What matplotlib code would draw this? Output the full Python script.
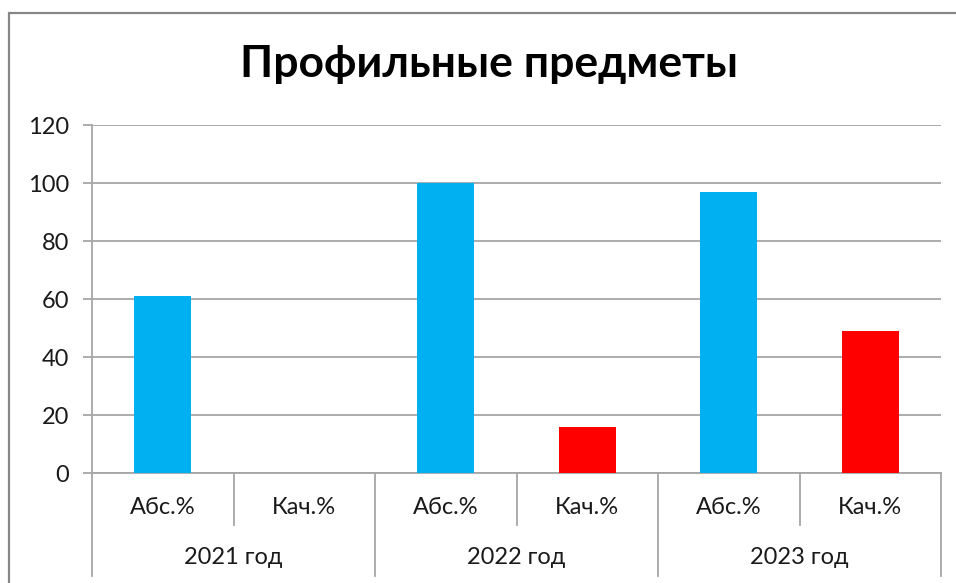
import matplotlib.pyplot as plt
from matplotlib import transforms
from matplotlib.patches import Rectangle

years = ['2021 год', '2022 год', '2023 год']
metrics = ['Абс.%', 'Кач.%']
abs_vals = [61, 100, 97]
kach_vals = [0, 16, 49]
title = 'Профильные предметы'

plt.rcParams['font.family'] = ['Lato', 'DejaVu Sans']
txt_color = '#1a1a1a'

fig = plt.figure(figsize=(9.56, 5.83), dpi=100)
W, H = 956, 583

# outer chart border (cut at right and bottom like the screenshot)
fig.patches.append(Rectangle((9 / W, -0.05), 1.0, 1 - 13 / H + 0.05,
                             transform=fig.transFigure, fill=False,
                             edgecolor='#868686', linewidth=1.6))

ax = fig.add_axes([92 / W, 1 - 473 / H, (941 - 92) / W, (473 - 125) / H])

values = []
colors = []
labels = []
for a, k in zip(abs_vals, kach_vals):
    values += [a, k]
    colors += ['#00b0f0', '#ff0000']
    labels += metrics
x = list(range(len(values)))
ax.bar(x, values, width=0.4, color=colors, zorder=3)

ax.set_xlim(-0.5, len(values) - 0.5)
ax.set_ylim(0, 120)
ax.set_yticks(range(0, 121, 20))
ax.yaxis.grid(True, color='#a6a6a6', linewidth=1.3)
ax.set_axisbelow(True)
for s in ['top', 'right']:
    ax.spines[s].set_visible(False)
ax.spines['left'].set_color('#a6a6a6')
ax.spines['left'].set_linewidth(1.3)
ax.spines['bottom'].set_color('#a6a6a6')
ax.spines['bottom'].set_linewidth(1.3)
ax.tick_params(axis='y', length=6.5, width=1.3, color='#a6a6a6',
               labelsize=17, pad=10, labelcolor=txt_color)
ax.set_xticks([])

# multi-level category axis
tr = transforms.blended_transform_factory(ax.transData, ax.transAxes)
ph = (473 - 125)
inner = -52 / ph
outer = -103 / ph
line_kw = dict(transform=tr, color='#a6a6a6', linewidth=1.3, clip_on=False)
for i in range(len(values) + 1):
    xb = i - 0.5
    y_end = outer if i % 2 == 0 else inner
    ax.plot([xb, xb], [0, y_end], **line_kw)
for i, lab in enumerate(labels):
    ax.text(i, -34 / ph, lab, transform=tr, ha='center', va='center',
            fontsize=17, color=txt_color)
for j, yr in enumerate(years):
    ax.text(2 * j + 0.5, -84 / ph, yr, transform=tr, ha='center',
            va='center', fontsize=17, color=txt_color)

fig.text(489 / W, 1 - 64 / H, title, ha='center', va='center',
         fontsize=32, fontweight='bold')

fig.savefig('out.png', dpi=100)
